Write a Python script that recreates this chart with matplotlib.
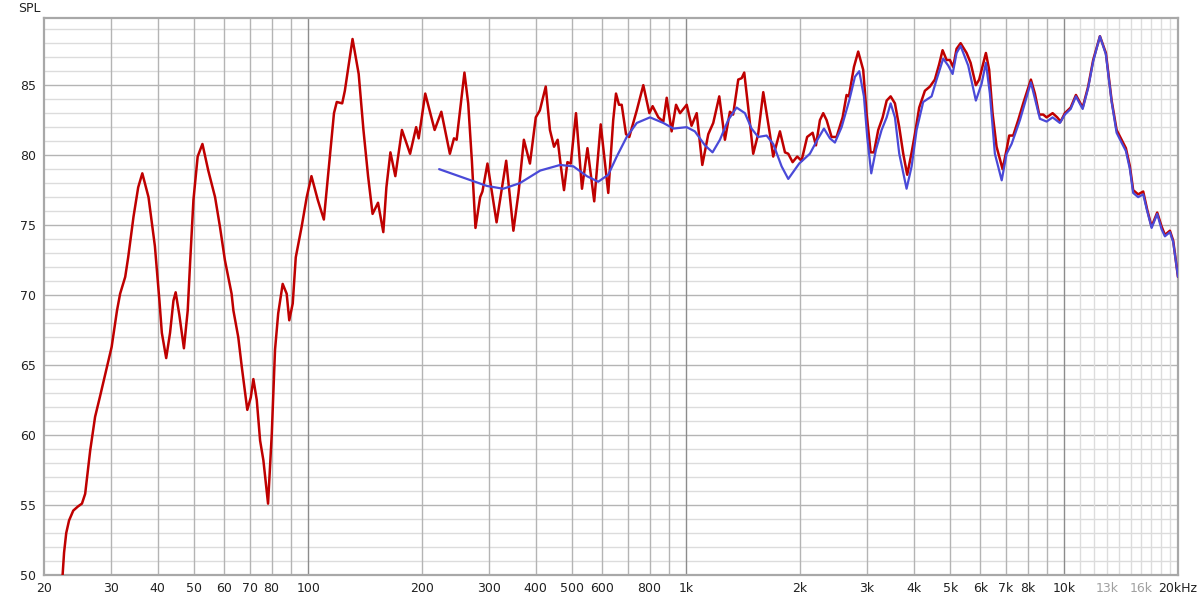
import numpy as np
import matplotlib
matplotlib.use("Agg")
import matplotlib.pyplot as plt
from matplotlib.ticker import FixedLocator, NullFormatter, NullLocator

# ── Data (Hz, dB SPL) ─────────────────────────────────────────
red_freq = [22.4, 22.6, 22.9, 23.3, 23.9, 24.6, 25.2, 25.7, 26.5, 27.3, 28.1, 30.2,
            31.2, 31.8, 32.8, 33.4, 34.5, 35.5, 36.4, 37.8, 39.3, 40.4,
            41.0, 42.1, 43.1, 44.0, 44.6, 45.6, 46.9, 48.0, 48.7, 49.7,
            51.0, 52.5, 54.4, 56.7, 58.4, 60.2, 62.7, 63.4, 65.3, 66.7,
            69.0, 70.5, 71.6, 73.1, 74.6, 76.1, 78.3, 80.1, 81.7, 83.3,
            85.6, 87.7, 89.1, 91.0, 92.7, 96.1, 99.1, 102, 106, 110,
            113, 117, 119, 123, 125, 131, 136, 140, 144, 148,
            153, 158, 161, 165, 170, 177, 186, 193, 196, 204,
            216, 225, 237, 243, 247, 259, 265, 271, 277, 285,
            289, 298, 315, 334, 349, 360, 372, 386, 400, 410,
            425, 436, 447, 457, 466, 475, 485, 495, 511, 530,
            548, 571, 594, 622, 641, 652, 664, 675, 693, 707,
            740, 770, 799, 815, 844, 870, 888, 915, 940, 963,
            1003, 1033, 1066, 1103, 1144, 1179, 1223, 1266, 1305, 1331,
            1373, 1402, 1424, 1459, 1504, 1550, 1599, 1665, 1699, 1770,
            1825, 1862, 1912, 1966, 2019, 2089, 2160, 2204, 2258, 2304,
            2352, 2424, 2499, 2593, 2656, 2694, 2778, 2851, 2939, 3000,
            3075, 3138, 3221, 3309, 3391, 3474, 3566, 3661, 3751, 3843,
            3948, 4027, 4134, 4280, 4412, 4548, 4669, 4767, 4885, 4984,
            5085, 5191, 5320, 5518, 5654, 5838, 5957, 6206, 6331, 6463,
            6623, 6871, 7040, 7153, 7330, 7556, 7790, 8163, 8365, 8587,
            8798, 8984, 9318, 9583, 9783, 10040, 10400, 10740, 11190, 11570,
            11930, 12430, 12890, 13350, 13760, 14180, 14560, 14920, 15220, 15690,
            16180, 16580, 17030, 17620, 18100, 18470, 19040, 19420, 20000]
red_spl = [50.0, 51.6, 53.0, 53.9, 54.6, 54.9, 55.1, 55.8, 58.9, 61.3, 62.7, 66.3,
           68.9, 70.1, 71.3, 72.7, 75.6, 77.7, 78.7, 77.0, 73.5, 69.6,
           67.3, 65.5, 67.3, 69.6, 70.2, 68.6, 66.2, 68.9, 72.3, 76.8,
           79.9, 80.8, 78.9, 77.0, 74.9, 72.5, 70.1, 68.9, 67.0, 64.9,
           61.8, 62.7, 64.0, 62.5, 59.6, 58.2, 55.1, 60.1, 66.1, 68.7,
           70.8, 70.1, 68.2, 69.4, 72.7, 74.9, 77.0, 78.5, 76.8, 75.4,
           78.7, 83.0, 83.8, 83.7, 84.6, 88.3, 85.8, 81.8, 78.5, 75.8,
           76.6, 74.5, 77.7, 80.2, 78.5, 81.8, 80.1, 82.0, 81.2, 84.4,
           81.8, 83.1, 80.1, 81.2, 81.1, 85.9, 83.7, 79.6, 74.8, 77.0,
           77.4, 79.4, 75.2, 79.6, 74.6, 77.3, 81.1, 79.4, 82.7, 83.2,
           84.9, 81.8, 80.6, 81.1, 79.2, 77.5, 79.5, 79.4, 83.0, 77.6,
           80.5, 76.7, 82.2, 77.3, 82.5, 84.4, 83.6, 83.6, 81.5, 81.3,
           83.2, 85.0, 83.0, 83.5, 82.7, 82.4, 84.1, 81.7, 83.6, 83.0,
           83.6, 82.1, 83.0, 79.3, 81.5, 82.3, 84.2, 81.1, 83.1, 82.9,
           85.4, 85.5, 85.9, 83.4, 80.1, 81.5, 84.5, 81.5, 79.9, 81.7,
           80.2, 80.1, 79.5, 79.9, 79.6, 81.3, 81.6, 80.7, 82.5, 83.0,
           82.5, 81.3, 81.3, 82.7, 84.3, 84.2, 86.3, 87.4, 86.1, 83.0,
           80.2, 80.2, 81.8, 82.7, 83.9, 84.2, 83.7, 82.0, 80.1, 78.6,
           80.2, 81.5, 83.4, 84.6, 84.9, 85.4, 86.5, 87.5, 86.8, 86.8,
           86.3, 87.6, 88.0, 87.3, 86.6, 85.0, 85.4, 87.3, 86.1, 83.0,
           80.6, 79.0, 80.4, 81.4, 81.4, 82.5, 83.7, 85.4, 84.4, 82.9,
           82.9, 82.7, 83.0, 82.7, 82.4, 83.0, 83.4, 84.3, 83.4, 84.9,
           86.8, 88.5, 87.3, 83.9, 81.8, 81.1, 80.5, 79.2, 77.5, 77.2,
           77.4, 76.1, 74.9, 75.9, 74.9, 74.3, 74.6, 73.9, 71.3]

blue_freq = [222, 263, 297, 328, 363, 411, 464, 503, 546, 585,
             622, 655, 696, 740, 802, 870, 925, 1003, 1054, 1121,
             1174, 1228, 1291, 1359, 1430, 1489, 1550, 1632, 1699, 1788,
             1862, 1990, 2124, 2213, 2314, 2400, 2474, 2577, 2699, 2795,
             2869, 2952, 3012, 3087, 3177, 3288, 3391, 3474, 3566, 3661,
             3828, 3948, 4069, 4236, 4458, 4596, 4785, 4933, 5067, 5191,
             5320, 5572, 5838, 6046, 6206, 6358, 6555, 6833, 7040, 7258,
             7635, 8163, 8624, 8984, 9318, 9741, 10040, 10400, 10740, 11190,
             11570, 11930, 12430, 12890, 13350, 13760, 14180, 14560, 14920, 15220,
             15690, 16180, 16580, 17030, 17620, 18100, 18470, 19040, 19420, 20000]
blue_spl = [79.0, 78.3, 77.8, 77.6, 78.0, 78.9, 79.3, 79.2, 78.5, 78.1,
            78.6, 79.9, 81.3, 82.3, 82.7, 82.3, 81.9, 82.0, 81.7, 80.7,
            80.2, 81.1, 82.5, 83.4, 83.0, 81.9, 81.3, 81.4, 80.8, 79.2,
            78.3, 79.4, 80.1, 81.0, 81.9, 81.2, 80.9, 82.0, 83.9, 85.6,
            86.0, 84.2, 81.3, 78.7, 80.4, 81.8, 82.7, 83.7, 82.7, 80.1,
            77.6, 79.2, 81.8, 83.8, 84.2, 85.4, 86.9, 86.4, 85.8, 87.3,
            87.8, 86.4, 83.9, 85.1, 86.6, 84.4, 80.1, 78.2, 80.1, 80.8,
            82.5, 85.2, 82.6, 82.4, 82.7, 82.3, 82.9, 83.3, 84.2, 83.3,
            84.8, 86.7, 88.5, 87.2, 83.8, 81.6, 80.9, 80.3, 79.0, 77.3,
            77.0, 77.2, 76.0, 74.8, 75.8, 74.7, 74.2, 74.5, 73.8, 71.3]

x_ticks = [20, 30, 40, 50, 60, 70, 80, 100, 200, 300, 400, 500, 600, 800,
           1000, 2000, 3000, 4000, 5000, 6000, 7000, 8000, 10000, 13000, 16000, 20000]
x_labels = ['20', '30', '40', '50', '60', '70', '80', '100', '200', '300', '400',
            '500', '600', '800', '1k', '2k', '3k', '4k', '5k', '6k', '7k', '8k',
            '10k', '13k', '16k', '20kHz']
y_ticks = [50, 55, 60, 65, 70, 75, 80, 85]

# ── Colours ───────────────────────────────────────────────────
RED = '#bf0000'
BLUE = '#4a4ad8'
GRID_MAJ = '#b4b4b4'
GRID_MIN = '#dcdcdc'
GRID_DEC = '#8c8c8c'

fig = plt.figure(figsize=(12, 5.98), dpi=100)
fig.patch.set_facecolor('white')
ax = fig.add_axes([44/1200, 23/598, 1134/1200, 557/598])
ax.set_xscale('log')
ax.set_xlim(20, 20000)
ax.set_ylim(50, 89.8)

# grid: horizontal
for v in np.arange(51, 90, 1):
    if v % 5 != 0:
        ax.axhline(v, color=GRID_MIN, lw=1, zorder=1)
for v in y_ticks[1:]:
    ax.axhline(v, color=GRID_MAJ, lw=1, zorder=1)

# grid: vertical
for dec in [10, 100, 1000]:
    for m in range(2, 10):
        f = dec * m
        if 20 < f < 20000:
            ax.axvline(f, color=GRID_MAJ, lw=1, zorder=1)
for f in range(11000, 20000, 1000):
    ax.axvline(f, color=GRID_MIN, lw=1, zorder=1)
for f in [100, 1000, 10000]:
    ax.axvline(f, color=GRID_DEC, lw=1, zorder=1)

ax.plot(red_freq, red_spl, color=RED, lw=1.8, zorder=3,
        solid_joinstyle='round', solid_capstyle='round')
ax.plot(blue_freq, blue_spl, color=BLUE, lw=1.6, zorder=4,
        solid_joinstyle='round', solid_capstyle='round')

ax.xaxis.set_major_locator(FixedLocator(x_ticks))
ax.xaxis.set_minor_locator(NullLocator())
ax.xaxis.set_minor_formatter(NullFormatter())
ax.set_xticklabels(x_labels)
ax.set_yticks(y_ticks)
ax.tick_params(axis='both', length=0, labelsize=9, colors='#222222')
ax.tick_params(axis='x', pad=5)
ax.tick_params(axis='y', pad=6)
for lbl in ax.get_xticklabels():
    if lbl.get_text() in ('13k', '16k'):
        lbl.set_color('#a0a0a0')

for s in ax.spines.values():
    s.set_color('#a8a8a8')
    s.set_linewidth(1.6)

fig.text(18/1200, 1 - 9/598, 'SPL', fontsize=9, color='#222222',
         ha='left', va='center')

plt.savefig('out.png', dpi=100, facecolor='white')
